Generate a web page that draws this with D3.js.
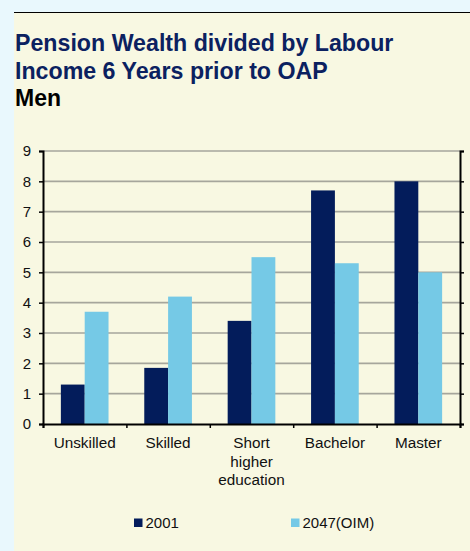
<!DOCTYPE html>
<html>
<head>
<meta charset="utf-8">
<script src="https://cdn.jsdelivr.net/npm/d3@7"></script>
<style>
  body { margin: 0; background: #e9f8fd; }
  svg { display: block; }
</style>
</head>
<body>
<div id="vis"></div>
<script>
// chart data
var categories = ["Unskilled", "Skilled", "Short higher education", "Bachelor", "Master"];
var catLines = [["Unskilled"], ["Skilled"], ["Short", "higher", "education"], ["Bachelor"], ["Master"]];
var seriesNames = ["2001", "2047(OIM)"];
var values2001 = [1.3, 1.85, 3.4, 7.7, 8.0];
var values2047 = [3.7, 4.2, 5.5, 5.3, 5.0];
var yTicks = [0, 1, 2, 3, 4, 5, 6, 7, 8, 9];

var cfg = {
  w: 470,
  h: 551,
  plot: {left: 43, right: 460, top: 151, bottom: 424},
  dark: "#031c5b",
  light: "#75c9e6",
  panel: "#f8f8e2",
  title: "#0b2160",
  grid: "#a6a69c",
  font: "'Liberation Sans', Arial, sans-serif"
};

var svg = d3.select("#vis").append("svg")
  .attr("width", cfg.w)
  .attr("height", cfg.h);

// panel
svg.append("rect")
  .attr("x", 14).attr("y", 12)
  .attr("width", cfg.w - 14).attr("height", cfg.h - 12)
  .attr("fill", cfg.panel);
svg.append("line")
  .attr("x1", 14).attr("x2", cfg.w)
  .attr("y1", 12.5).attr("y2", 12.5)
  .attr("stroke", "#000").attr("stroke-width", 1.2);

// titles
var titleLines = ["Pension Wealth divided by Labour", "Income 6 Years prior to OAP"];
svg.selectAll(".title").data(titleLines).enter().append("text")
  .attr("class", "title")
  .attr("x", 15)
  .attr("y", function(d, i) { return 51 + i * 28; })
  .attr("fill", cfg.title)
  .style("font-family", cfg.font)
  .style("font-size", "23.2px")
  .style("font-weight", "bold")
  .text(function(d) { return d; });
svg.append("text")
  .attr("x", 15).attr("y", 106)
  .attr("fill", "#000")
  .style("font-family", cfg.font)
  .style("font-size", "23px")
  .style("font-weight", "bold")
  .text("Men");

// scales
var x = d3.scaleBand()
  .domain(categories)
  .range([cfg.plot.left, cfg.plot.right])
  .paddingInner(0).paddingOuter(0);
var xs = d3.scaleBand()
  .domain(seriesNames)
  .range([0, x.bandwidth()])
  .paddingInner(0).paddingOuter(0.75);
var y = d3.scaleLinear()
  .domain([0, 9])
  .range([cfg.plot.bottom, cfg.plot.top]);

// gridlines
svg.append("g").selectAll("line").data(yTicks.slice(1)).enter().append("line")
  .attr("x1", cfg.plot.left).attr("x2", cfg.plot.right)
  .attr("y1", function(d) { return y(d); })
  .attr("y2", function(d) { return y(d); })
  .attr("stroke", cfg.grid).attr("stroke-width", 1.6);

// bars
var rows = categories.map(function(c, i) {
  return {cat: c, vals: [{s: seriesNames[0], v: values2001[i]}, {s: seriesNames[1], v: values2047[i]}]};
});
var colors = d3.scaleOrdinal().domain(seriesNames).range([cfg.dark, cfg.light]);
var groups = svg.append("g").selectAll("g").data(rows).enter().append("g")
  .attr("transform", function(d) { return "translate(" + x(d.cat) + ",0)"; });
groups.selectAll("rect").data(function(d) { return d.vals; }).enter().append("rect")
  .attr("x", function(d) { return xs(d.s); })
  .attr("width", xs.bandwidth())
  .attr("y", function(d) { return y(d.v); })
  .attr("height", function(d) { return y(0) - y(d.v); })
  .attr("fill", function(d) { return colors(d.s); });

// axes
var leftAxis = svg.append("g")
  .attr("transform", "translate(" + cfg.plot.left + ",0)")
  .call(d3.axisLeft(y).tickValues(yTicks).tickSize(4).tickPadding(8));
var rightAxis = svg.append("g")
  .attr("transform", "translate(" + cfg.plot.right + ",0)")
  .call(d3.axisRight(y).tickValues(yTicks).tickSize(4).tickFormat(""));
var edges = categories.map(function(c) { return x(c); }).concat([cfg.plot.right]);
var bottomAxis = svg.append("g")
  .attr("transform", "translate(0," + cfg.plot.bottom + ")")
  .call(d3.axisBottom(d3.scaleLinear().domain([cfg.plot.left, cfg.plot.right]).range([cfg.plot.left, cfg.plot.right]))
    .tickValues(edges).tickSize(4).tickFormat(""));

[leftAxis, rightAxis, bottomAxis].forEach(function(a) {
  a.select(".domain").attr("stroke", "#000").attr("stroke-width", 2);
  a.selectAll(".tick line").attr("stroke", "#000").attr("stroke-width", 1.5);
});
leftAxis.selectAll("text")
  .style("font-family", cfg.font).style("font-size", "15px").attr("fill", "#111");

// category labels
var labels = svg.append("g").selectAll("text").data(categories).enter().append("text")
  .attr("x", function(d) { return x(d) + x.bandwidth() / 2; })
  .attr("y", 448)
  .attr("text-anchor", "middle")
  .attr("fill", "#111")
  .style("font-family", cfg.font)
  .style("font-size", "15.3px");
labels.selectAll("tspan").data(function(d, i) { return catLines[i]; }).enter().append("tspan")
  .attr("x", function() { var p = this.parentNode; return p.getAttribute("x"); })
  .attr("dy", function(d, i) { return i === 0 ? 0 : 18.5; })
  .text(function(d) { return d; });

// legend
var legendX = [134, 291];
var legend = svg.append("g").selectAll("g").data(seriesNames).enter().append("g")
  .attr("transform", function(d, i) { return "translate(" + legendX[i] + ",518.5)"; });
legend.append("rect")
  .attr("width", 8.5).attr("height", 8.5)
  .attr("fill", function(d) { return colors(d); });
legend.append("text")
  .attr("x", 11.5).attr("y", 9.5)
  .attr("fill", "#111")
  .style("font-family", cfg.font)
  .style("font-size", "15px")
  .text(function(d) { return d; });
</script>
</body>
</html>
